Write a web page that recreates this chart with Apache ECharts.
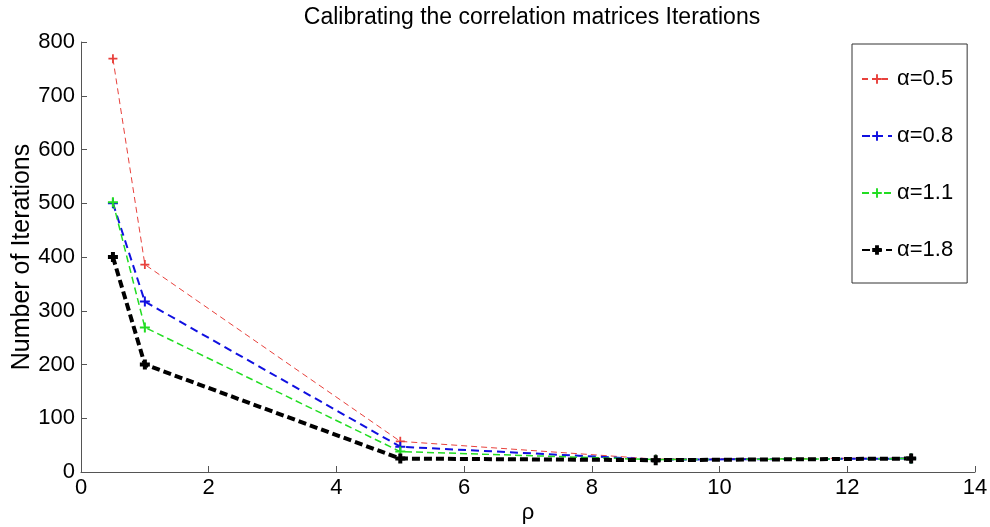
<!DOCTYPE html>
<html>
<head>
<meta charset="utf-8">
<script src="https://cdn.jsdelivr.net/npm/echarts@6/dist/echarts.min.js"></script>
<style>
  html, body { margin: 0; padding: 0; background: #fff; }
  #main { width: 990px; height: 527px; }
</style>
</head>
<body>
<div id="main"></div>
<script>
let rho = [0.5, 1, 5, 9, 13];
let alpha05 = [769, 386, 57, 24, 26];
let alpha08 = [500, 317, 47, 23, 25];
let alpha11 = [502, 269, 38, 23, 25];
let alpha18 = [400, 200, 25, 22, 25];
let names = ['α=0.5', 'α=0.8', 'α=1.1', 'α=1.8'];

let plus = 'path://M4,0h2v4h4v2h-4v4h-2v-4h-4v-2h4z';
let plusBold = 'path://M3,0h4v3h3v4h-3v3h-4v-3h-3v-4h3z';

function pairs(vals) {
  return rho.map(function (x, i) { return [x, vals[i]]; });
}

function makeSeries(name, vals, color, width, dash, sym, size) {
  return {
    name: name,
    type: 'line',
    data: pairs(vals),
    symbol: sym,
    symbolSize: size,
    showSymbol: true,
    itemStyle: { color: color },
    lineStyle: { color: color, width: width, type: dash },
    emphasis: { disabled: true },
    animation: false
  };
}

let chart = echarts.init(document.getElementById('main'));
let font = 'Liberation Sans, Arial, sans-serif';

let option = {
  backgroundColor: '#fff',
  title: {
    text: 'Calibrating the correlation matrices Iterations',
    left: 527,
    textAlign: 'center',
    top: 1,
    textStyle: { fontFamily: font, fontSize: 23, fontWeight: 'normal', color: '#000' }
  },
  legend: {
    data: names,
    orient: 'vertical',
    left: 852,
    top: 44,
    width: 118,
    padding: [24, 14, 22, 9],
    itemGap: 35,
    itemWidth: 30,
    itemHeight: 12,
    borderColor: '#333',
    borderWidth: 1,
    backgroundColor: '#fff',
    textStyle: { fontFamily: font, fontSize: 22, color: '#000' }
  },
  grid: { left: 81, right: 15, top: 42, bottom: 55, outerBoundsMode: 'none' },
  xAxis: {
    type: 'value',
    min: 0,
    max: 14,
    interval: 2,
    name: 'ρ',
    nameLocation: 'middle',
    nameGap: 30,
    nameMoveOverlap: false,
    nameTextStyle: { fontFamily: font, fontSize: 22, color: '#000' },
    axisLine: { lineStyle: { color: '#555', width: 1 } },
    axisTick: { inside: true, length: 6, lineStyle: { color: '#555' } },
    axisLabel: { fontFamily: font, fontSize: 22, color: '#000', margin: 5 },
    splitLine: { show: false }
  },
  yAxis: {
    type: 'value',
    min: 0,
    max: 800,
    interval: 100,
    name: 'Number of Iterations',
    nameLocation: 'middle',
    nameGap: 46,
    nameMoveOverlap: false,
    nameTextStyle: { fontFamily: font, fontSize: 25, color: '#000' },
    axisLine: { show: true, lineStyle: { color: '#555', width: 1 } },
    axisTick: { show: true, inside: true, length: 6, lineStyle: { color: '#555' } },
    axisLabel: { fontFamily: font, fontSize: 22, color: '#000', margin: 6 },
    splitLine: { show: false }
  },
  series: [
    makeSeries(names[0], alpha05, '#e8413c', 1, [6, 4], plus, 9),
    makeSeries(names[1], alpha08, '#1010e0', 2, [8, 5], plus, 10),
    makeSeries(names[2], alpha11, '#22dd22', 1.5, [7, 4], plus, 10),
    makeSeries(names[3], alpha18, '#000000', 4, [8, 4], plusBold, 10)
  ]
};

chart.setOption(option);
</script>
</body>
</html>
